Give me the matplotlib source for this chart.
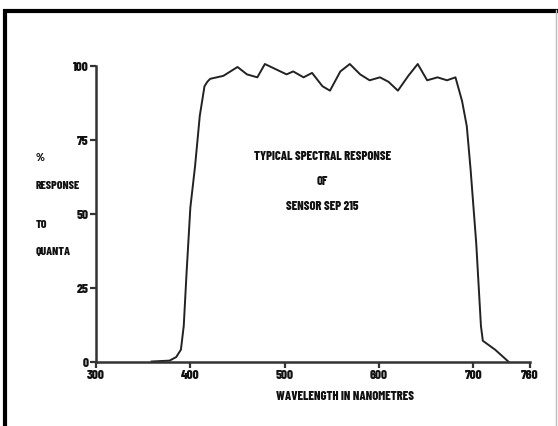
import matplotlib
matplotlib.use("Agg")
import matplotlib.pyplot as plt
from matplotlib.lines import Line2D

# data
wavelength = [359, 378, 385, 390, 393, 396, 400, 405, 410, 415, 418, 421, 435, 450, 460,
              471, 479, 502, 509, 520, 529, 540, 548, 559, 569, 580, 590, 601, 610, 620,
              631, 641, 651, 662, 672, 681, 688, 693, 697, 703, 708, 710, 723, 737]
response = [0, 0.3, 1.5, 4, 12, 30, 52, 66, 83, 93, 94.5, 95.5, 96.5, 99.5, 97,
            96, 100.5, 97, 98, 96, 97.5, 93, 91.5, 98, 100.5, 97, 95, 96, 94.5, 91.5,
            96.5, 100.5, 95, 96, 95, 96, 88, 79.5, 65, 40, 12, 7, 4, 0]

xticks = [300, 400, 500, 600, 700, 760]
xtick_labels = ["300", "400", "500", "600", "700", "760"]
yticks = [0, 25, 50, 75, 100]
ytick_labels = ["0", "25", "50", "75", "100"]

title_lines = ["TYPICAL SPECTRAL RESPONSE", "OF", "SENSOR SEP 215"]
ylabel_lines = ["%", "RESPONSE", "TO", "QUANTA"]
xlabel = "WAVELENGTH IN NANOMETRES"

FONT = ["Barlow Condensed", "DejaVu Sans"]
WEIGHT = 800
ink = "#222222"
txtc = "#111111"

W, H = 558, 427
fig = plt.figure(figsize=(W / 100, H / 100), dpi=100)
fig.patch.set_facecolor("white")

x0, x1 = 96, 530
y0, y1 = 362.5, 66.5
ax = fig.add_axes([x0 / W, (H - y0) / H, (x1 - x0) / W, (y0 - y1) / H])
ax.set_xlim(300, 760)
ax.set_ylim(0, 100)
ax.patch.set_alpha(0)

for s in ["top", "right"]:
    ax.spines[s].set_visible(False)
for s in ["left", "bottom"]:
    ax.spines[s].set_linewidth(1.8)
    ax.spines[s].set_color("#333333")

ax.plot(wavelength, response, color=ink, lw=1.4, solid_joinstyle="round", clip_on=False)

ax.set_xticks(xticks)
ax.set_xticklabels(xtick_labels)
ax.set_yticks(yticks)
ax.set_yticklabels(ytick_labels)
ax.tick_params(axis="both", direction="out", length=4, width=1.6, color="#333333",
               labelsize=9.5, pad=1.5)
for lab in ax.get_xticklabels() + ax.get_yticklabels():
    lab.set_family(FONT)
    lab.set_fontweight(WEIGHT)
    lab.set_color(txtc)

for i, t in enumerate(title_lines):
    ax.text(540, 69.5 - i * 8.4, t, ha="center", va="center", fontsize=9,
            family=FONT, fontweight=WEIGHT, color=txtc)

fig.text(345 / W, 1 - 397 / H, xlabel, ha="center", va="center",
         fontsize=9, family=FONT, fontweight=WEIGHT, color=txtc)

ypos = [158, 186, 225, 252]
for t, yp in zip(ylabel_lines, ypos):
    fig.text(36 / W, 1 - yp / H, t, ha="left", va="center", fontsize=8.5,
             family=FONT, fontweight=WEIGHT, color=txtc)

# outer frame
fig.add_artist(Line2D([4.5 / W, 4.5 / W], [0, 1 - 10 / H], transform=fig.transFigure,
                      color="black", lw=3, solid_capstyle="butt"))
fig.add_artist(Line2D([3 / W, 1.0], [1 - 11.5 / H, 1 - 11.5 / H], transform=fig.transFigure,
                      color="black", lw=3, solid_capstyle="butt"))
fig.add_artist(Line2D([556 / W, 556 / W], [0, 1 - 11 / H], transform=fig.transFigure,
                      color="#bbbbbb", lw=1))

fig.savefig("out.png", dpi=100)
